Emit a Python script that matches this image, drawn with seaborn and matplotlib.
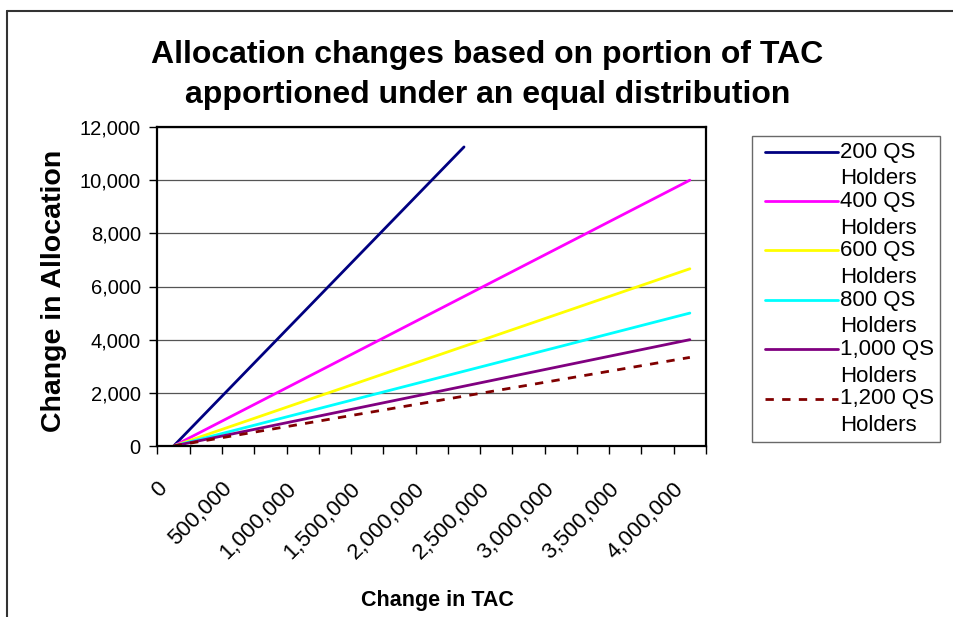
import matplotlib
matplotlib.use("Agg")
import matplotlib.pyplot as plt
from matplotlib.legend_handler import HandlerLine2D
from matplotlib.lines import Line2D
from matplotlib.transforms import ScaledTranslation
import seaborn as sns
import pandas as pd

# ---- data ----
tac = [0, 250000, 500000, 750000, 1000000, 1250000, 1500000, 1750000, 2000000,
       2250000, 2500000, 2750000, 3000000, 3250000, 3500000, 3750000, 4000000]
series_names = ["200 QS Holders", "400 QS Holders", "600 QS Holders",
                "800 QS Holders", "1,000 QS Holders", "1,200 QS Holders"]
qs200 = [0, 1250, 2500, 3750, 5000, 6250, 7500, 8750, 10000, 11250]
qs400 = [0, 625, 1250, 1875, 2500, 3125, 3750, 4375, 5000, 5625, 6250, 6875,
         7500, 8125, 8750, 9375, 10000]
qs600 = [0, 417, 833, 1250, 1667, 2083, 2500, 2917, 3333, 3750, 4167, 4583,
         5000, 5417, 5833, 6250, 6667]
qs800 = [0, 313, 625, 938, 1250, 1563, 1875, 2188, 2500, 2813, 3125, 3438,
         3750, 4063, 4375, 4688, 5000]
qs1000 = [0, 250, 500, 750, 1000, 1250, 1500, 1750, 2000, 2250, 2500, 2750,
          3000, 3250, 3500, 3750, 4000]
qs1200 = [0, 208, 417, 625, 833, 1042, 1250, 1458, 1667, 1875, 2083, 2292,
          2500, 2708, 2917, 3125, 3333]
y_ticks = [0, 2000, 4000, 6000, 8000, 10000, 12000]

colors = ["#000080", "#FF00FF", "#FFFF00", "#00FFFF", "#800080", "#800000"]

rows = []
for name, vals in zip(series_names, [qs200, qs400, qs600, qs800, qs1000, qs1200]):
    for i, v in enumerate(vals):
        rows.append({"pos": i, "tac": tac[i], "alloc": v, "series": name})
df = pd.DataFrame(rows)

sns.set_theme(style="white")
plt.rcParams["font.family"] = ["Liberation Sans", "DejaVu Sans"]
for k in ["text.color", "axes.labelcolor", "xtick.color", "ytick.color"]:
    plt.rcParams[k] = "black"

W, H = 954, 617
fig = plt.figure(figsize=(W / 100, H / 100), dpi=100)
L, R, T, B = 157.5, 706, 127, 446
ax = fig.add_axes([L / W, 1 - B / H, (R - L) / W, (B - T) / H])

dash_map = {n: "" for n in series_names}
dash_map["1,200 QS Holders"] = (3, 3)
sns.lineplot(data=df, x="pos", y="alloc", hue="series", style="series",
             hue_order=series_names, style_order=series_names,
             palette=dict(zip(series_names, colors)), dashes=dash_map,
             linewidth=2.0, ax=ax, legend=True, estimator=None, sort=False)

ax.set_xlim(-0.5, len(tac) - 0.5)
ax.set_ylim(0, 12000)
ax.set_yticks(y_ticks)
ax.set_yticklabels([f"{v:,}" for v in y_ticks], fontsize=14.5)
ax.yaxis.grid(True, color="#555555", linewidth=0.9)
ax.set_axisbelow(True)

label_pos = list(range(0, len(tac), 2))
ax.set_xticks(label_pos)
ax.set_xticklabels([f"{tac[i]:,}" for i in label_pos], fontsize=16,
                   rotation=45, ha="right", va="top", rotation_mode="anchor")
ax.set_xticks([i - 0.5 for i in range(len(tac) + 1)], minor=True)
ax.tick_params(axis="x", which="major", length=0, pad=16)
ax.tick_params(axis="x", which="minor", length=6, width=1, color="black",
               direction="out", bottom=True)
ax.tick_params(axis="y", which="major", length=6, width=1, color="black",
               direction="out", left=True, pad=6)
offset = ScaledTranslation(-17 / 100, -10 / 100, fig.dpi_scale_trans)
for lab in ax.xaxis.get_majorticklabels():
    lab.set_transform(lab.get_transform() + offset)

for s in ax.spines.values():
    s.set_visible(True)
    s.set_color("black")
    s.set_linewidth(1.6)

ax.set_xlabel("Change in TAC", fontsize=15.5, fontweight="bold")
ax.set_ylabel("Change in Allocation", fontsize=20.5, fontweight="bold")
ax.yaxis.set_label_coords(-0.165, 0.485)
ax.xaxis.set_label_coords(0.51, -0.45)

fig.text(0.511, 1 - 75 / H, "Allocation changes based on portion of TAC\napportioned under an equal distribution",
         ha="center", va="center", fontsize=23, fontweight="bold", linespacing=1.45)

# legend
handles, labels = ax.get_legend_handles_labels()
ax.get_legend().remove()


class TopHandler(HandlerLine2D):
    def create_artists(self, legend, orig_handle, xdescent, ydescent, width,
                       height, fontsize, trans):
        return super().create_artists(legend, orig_handle,
                                      xdescent - 0.32 * fontsize,
                                      ydescent - 1.25 * fontsize, width,
                                      height, fontsize, trans)


wrapped = [l.replace(" Holders", "\nHolders") for l in labels]
leg = fig.legend(handles, wrapped, loc="upper left",
                 bbox_to_anchor=(752 / W, 1 - 136 / H),
                 fontsize=16, frameon=True, fancybox=False, shadow=False,
                 handlelength=3.3, handletextpad=0.42, labelspacing=0.08,
                 borderpad=0.25, borderaxespad=0,
                 handler_map={h: TopHandler() for h in handles})
leg.get_frame().set_edgecolor("#444444")
leg.get_frame().set_linewidth(1.0)
for t in leg.get_texts():
    t.set_linespacing(1.35)

# outer chart frame (top and left edges)
fig.add_artist(Line2D([7 / W, 1], [1 - 11 / H, 1 - 11 / H], color="#333333",
                      linewidth=1.5, transform=fig.transFigure))
fig.add_artist(Line2D([7 / W, 7 / W], [0, 1 - 11 / H], color="#333333",
                      linewidth=1.5, transform=fig.transFigure))

fig.savefig("out.png", dpi=100)
